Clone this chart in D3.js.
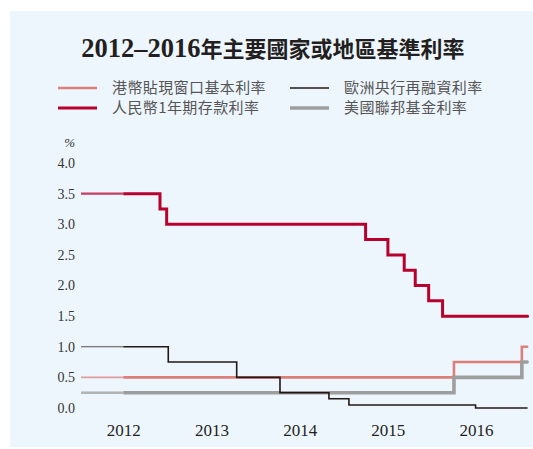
<!DOCTYPE html>
<html>
<head>
<meta charset="utf-8">
<script src="https://cdn.jsdelivr.net/npm/d3@7"></script>
<style>
  body { margin: 0; background: #fff; }
  svg { display: block; }
</style>
</head>
<body>
<div id="chart"></div>
<script>
// step dates as fractional years, values in %
var hkDates = [2011.52, 2015.75, 2016.52, 2016.58];
var hkRates = [0.5, 0.75, 1.0, 1.0];

var cnDates = [2011.52, 2012.416, 2012.492, 2014.748, 2015.001, 2015.186, 2015.311, 2015.463, 2015.621, 2016.585];
var cnRates = [3.5, 3.25, 3.0, 2.75, 2.5, 2.25, 2.0, 1.75, 1.5, 1.5];

var ecbDates = [2011.52, 2012.51, 2013.286, 2013.777, 2014.332, 2014.559, 2015.995, 2016.585];
var ecbRates = [1.0, 0.75, 0.5, 0.25, 0.15, 0.05, 0.0, 0.0];

var fedDates = [2011.52, 2015.75, 2016.52, 2016.58];
var fedRates = [0.25, 0.5, 0.75, 0.75];

var yearTicks = [2012, 2013, 2014, 2015, 2016];
var rateTicks = [0, 0.5, 1.0, 1.5, 2.0, 2.5, 3.0, 3.5, 4.0];

var svgWidth = 533;
var svgHeight = 449;

var svg = d3.select("#chart")
  .append("svg")
  .attr("width", svgWidth)
  .attr("height", svgHeight);

svg.append("rect")
  .attr("x", 10)
  .attr("y", 11)
  .attr("width", svgWidth - 10)
  .attr("height", 436)
  .attr("fill", "#eef6fd");

var title = svg.append("text")
  .attr("x", 273)
  .attr("y", 57)
  .attr("text-anchor", "middle")
  .attr("font-weight", "bold")
  .attr("fill", "#231f20");
title.append("tspan")
  .attr("font-family", "'Liberation Serif', serif")
  .attr("font-size", "26.5px")
  .text("2012–2016");
title.append("tspan")
  .attr("font-family", "'Noto Sans CJK TC', sans-serif")
  .attr("font-size", "22px")
  .text("年主要國家或地區基準利率");

var xScale = d3.scaleLinear()
  .domain([2012, 2016])
  .range([123.3, 476]);

var yScale = d3.scaleLinear()
  .domain([0, 4])
  .range([408, 163]);

// axes: labels only
var bottomAxis = d3.axisBottom(xScale)
  .tickValues(yearTicks)
  .tickFormat(d3.format("d"))
  .tickSize(0)
  .tickPadding(0);

var xAxisG = svg.append("g")
  .attr("transform", "translate(0, 424)")
  .call(bottomAxis);
xAxisG.select(".domain").remove();
xAxisG.selectAll("text")
  .attr("font-family", "'Liberation Serif', serif")
  .attr("font-size", "17px")
  .attr("fill", "#231f20");

var leftAxis = d3.axisLeft(yScale)
  .tickValues(rateTicks)
  .tickFormat(d3.format(".1f"))
  .tickSize(0)
  .tickPadding(0);

var yAxisG = svg.append("g")
  .attr("transform", "translate(75, 0)")
  .call(leftAxis);
yAxisG.select(".domain").remove();
yAxisG.selectAll("text")
  .attr("font-family", "'Liberation Serif', serif")
  .attr("font-size", "14px")
  .attr("fill", "#333");

svg.append("text")
  .attr("x", 75)
  .attr("y", 147)
  .attr("text-anchor", "end")
  .attr("font-family", "'Liberation Serif', serif")
  .attr("font-style", "italic")
  .attr("font-size", "13px")
  .attr("fill", "#333")
  .text("%");

// clip: the part before 2012 is drawn thinner and lighter
var defs = svg.append("defs");
defs.append("clipPath").attr("id", "pre")
  .append("rect")
  .attr("x", 0).attr("y", 0)
  .attr("width", xScale(2012)).attr("height", svgHeight);
defs.append("clipPath").attr("id", "post")
  .append("rect")
  .attr("x", xScale(2012)).attr("y", 0)
  .attr("width", svgWidth).attr("height", svgHeight);

var series = [
  { dates: hkDates, rates: hkRates, color: "#dc7f7b", width: 2.6 },
  { dates: fedDates, rates: fedRates, color: "#9e9e9e", width: 3.6 },
  { dates: ecbDates, rates: ecbRates, color: "#231815", width: 1.6 },
  { dates: cnDates, rates: cnRates, color: "#b8002c", width: 3 }
];

var line = d3.line()
  .x(function(d) { return xScale(d[0]); })
  .y(function(d) { return yScale(d[1]); })
  .curve(d3.curveStepAfter);

series.forEach(function(s) {
  var pts = d3.zip(s.dates, s.rates);
  svg.append("path")
    .attr("d", line(pts))
    .attr("clip-path", "url(#pre)")
    .attr("fill", "none")
    .attr("stroke", s.color)
    .attr("stroke-opacity", 0.75)
    .attr("stroke-width", s.width * 0.7);
  svg.append("path")
    .attr("d", line(pts))
    .attr("clip-path", "url(#post)")
    .attr("fill", "none")
    .attr("stroke", s.color)
    .attr("stroke-width", s.width)
    .attr("stroke-linecap", s.width > 2 ? "round" : "butt");
});

// legend
var legendItems = [
  { label: "港幣貼現窗口基本利率", color: "#dc7f7b", width: 2.6, x: 58, y: 88 },
  { label: "歐洲央行再融資利率", color: "#231815", width: 1.6, x: 290, y: 88 },
  { label: "人民幣1年期存款利率", color: "#b8002c", width: 3, x: 58, y: 108 },
  { label: "美國聯邦基金利率", color: "#9e9e9e", width: 3.6, x: 290, y: 108 }
];

var legend = svg.append("g")
  .selectAll("g")
  .data(legendItems)
  .enter()
  .append("g")
  .attr("transform", function(d) { return "translate(" + d.x + "," + d.y + ")"; });

legend.append("line")
  .attr("x1", 0).attr("x2", 39)
  .attr("y1", 0).attr("y2", 0)
  .attr("stroke", function(d) { return d.color; })
  .attr("stroke-width", function(d) { return d.width; });

legend.append("text")
  .attr("x", 54)
  .attr("y", 0)
  .attr("dy", "0.36em")
  .attr("font-family", "'Noto Sans CJK TC', sans-serif")
  .attr("font-size", "15px")
  .attr("letter-spacing", "0.4px")
  .attr("fill", "#555")
  .text(function(d) { return d.label; });
</script>
</body>
</html>
